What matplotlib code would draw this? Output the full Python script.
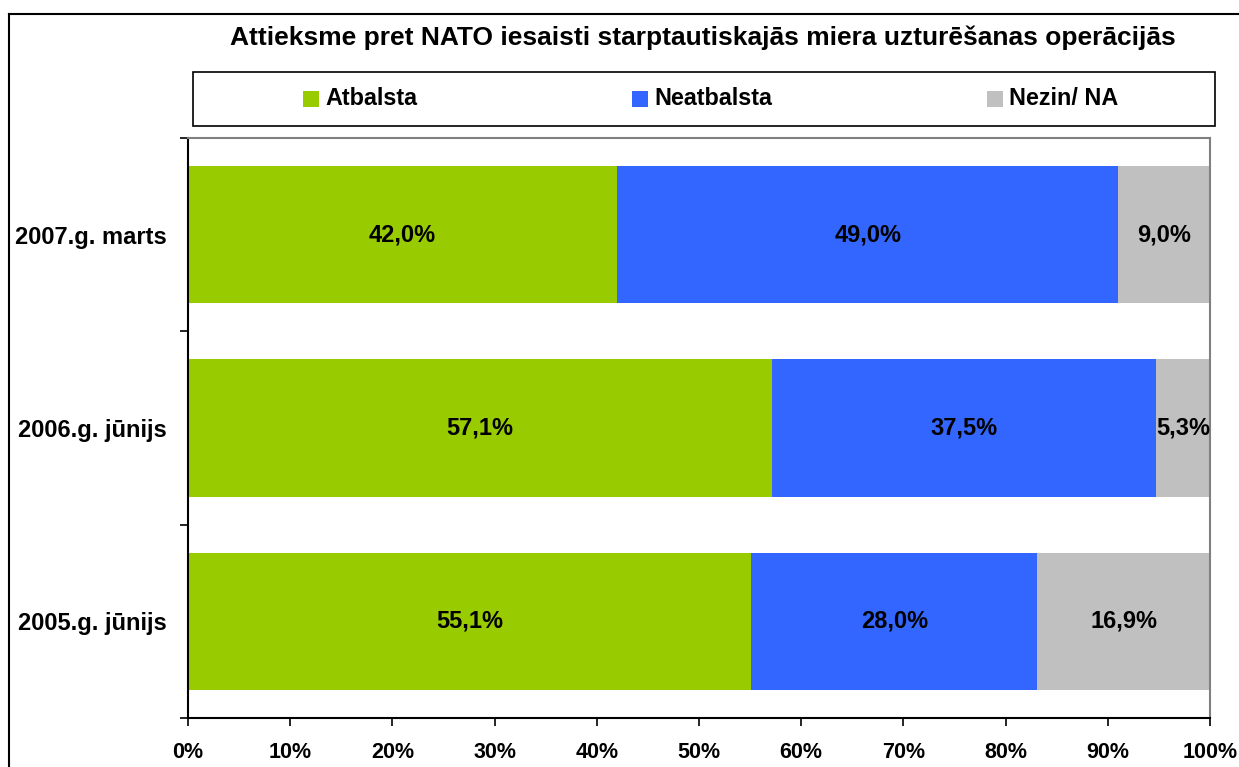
import matplotlib
matplotlib.use("Agg")
import matplotlib.pyplot as plt
from matplotlib.patches import Rectangle
from matplotlib.lines import Line2D

plt.rcParams['font.family'] = ['Liberation Sans', 'DejaVu Sans']

categories = ["2005.g. jūnijs", "2006.g. jūnijs", "2007.g. marts"]
series_names = ["Atbalsta", "Neatbalsta", "Nezin/ NA"]
atbalsta = [55.1, 57.1, 42.0]
neatbalsta = [28.0, 37.5, 49.0]
nezin = [16.9, 5.3, 9.0]
colors = ["#99CC00", "#3366FF", "#C0C0C0"]
xtick_labels = ["0%", "10%", "20%", "30%", "40%", "50%", "60%", "70%", "80%", "90%", "100%"]
title = "Attieksme pret NATO iesaisti starptautiskajās miera uzturēšanas operācijās"

W, H = 1239, 767
fig = plt.figure(figsize=(W / 100, H / 100), dpi=100)
fig.patch.set_facecolor("white")

ax = fig.add_axes([188 / W, 1 - 718 / H, (1210 - 188) / W, (718 - 138) / H])

series = [atbalsta, neatbalsta, nezin]
ypos = list(range(len(categories)))
lefts = [0.0] * len(categories)
totals = [a + b + c for a, b, c in zip(atbalsta, neatbalsta, nezin)]
for vals, col in zip(series, colors):
    widths = [v / t * 100 for v, t in zip(vals, totals)]
    ax.barh(ypos, widths, left=lefts, height=0.71, color=col, edgecolor="none")
    for y, l, w, v in zip(ypos, lefts, widths, vals):
        ax.text(l + w / 2, y, f"{v:.1f}%".replace(".", ","), ha="center", va="center",
                fontsize=17, fontweight="bold", color="black")
    lefts = [l + w for l, w in zip(lefts, widths)]

ax.set_xlim(0, 100)
ax.set_ylim(-0.5, len(categories) - 0.5)
ax.set_xticks(range(0, 101, 10))
ax.set_xticklabels(xtick_labels, fontsize=15.5, fontweight="bold")
ax.set_yticks([i - 0.5 for i in range(len(categories) + 1)])
ax.set_yticklabels([])
ax.set_yticks(ypos, minor=True)
ax.set_yticklabels(categories, minor=True, fontsize=17, fontweight="bold")
ax.tick_params(axis="y", which="minor", length=0, pad=15)
ax.tick_params(axis="y", which="major", length=6, width=1.2, direction="out")
ax.tick_params(axis="x", length=6, width=1.2, direction="out", pad=11)

for s in ["left", "bottom"]:
    ax.spines[s].set_color("black")
    ax.spines[s].set_linewidth(1.5)
for s in ["top", "right"]:
    ax.spines[s].set_color("#808080")
    ax.spines[s].set_linewidth(1.5)

# Title
fig.text(703 / W, 1 - 38 / H, title, ha="center", va="center", fontsize=19, fontweight="bold")

# Legend box
fig.patches.append(Rectangle((193 / W, 1 - 126 / H), (1215 - 193) / W, (126 - 72) / H,
                             transform=fig.transFigure, facecolor="white",
                             edgecolor="black", linewidth=1.2))
marker_x = [303, 632, 987]
for mx, name, col in zip(marker_x, series_names, colors):
    fig.patches.append(Rectangle((mx / W, 1 - 107 / H), 16 / W, 16 / H,
                                 transform=fig.transFigure, facecolor=col, edgecolor="none"))
    fig.text((mx + 22) / W, 1 - 98.5 / H, name, ha="left", va="center",
             fontsize=16.8, fontweight="bold")

# Outer frame
fig.add_artist(Line2D([9 / W, 9 / W], [0, 1 - 14 / H], transform=fig.transFigure,
                      color="black", linewidth=1.5))
fig.add_artist(Line2D([9 / W, 1], [1 - 14 / H, 1 - 14 / H], transform=fig.transFigure,
                      color="black", linewidth=1.5))

fig.savefig("out.png", dpi=100)
